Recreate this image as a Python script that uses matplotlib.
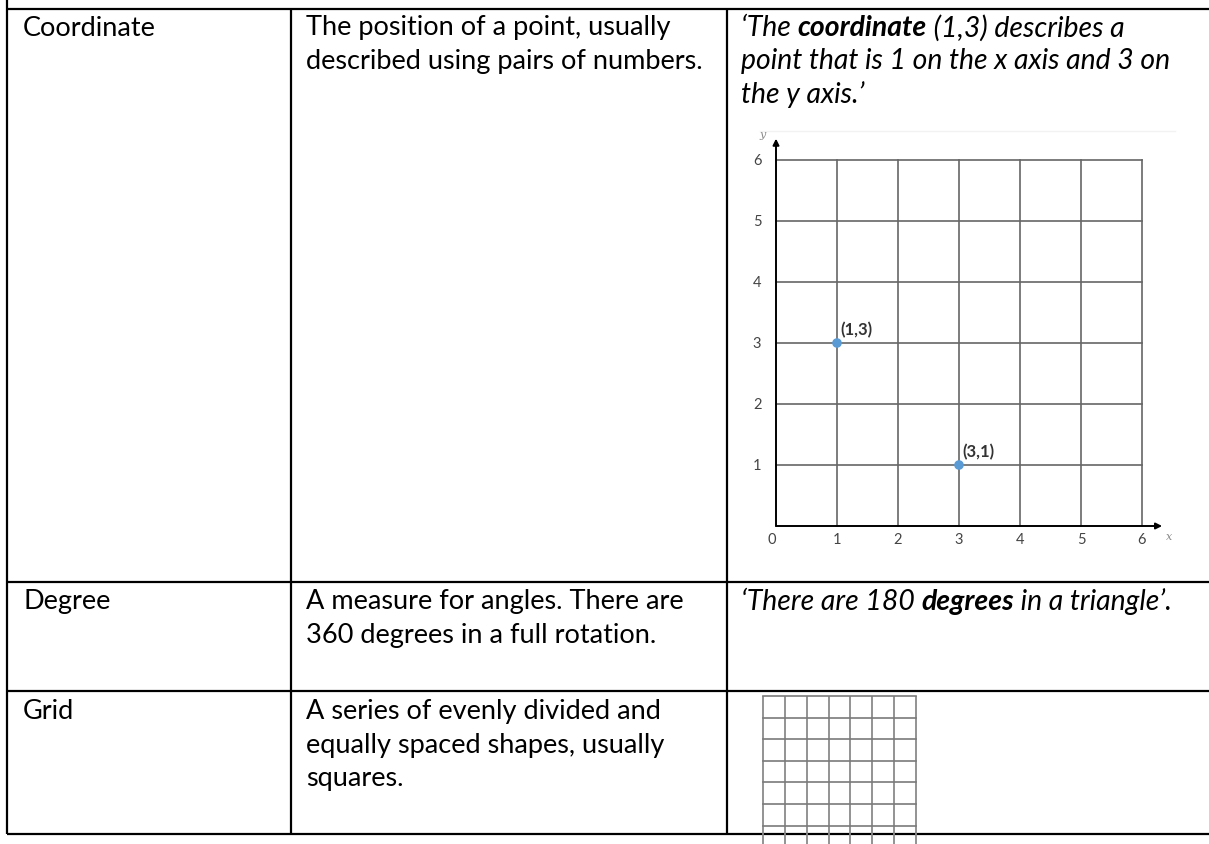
import matplotlib
matplotlib.use("Agg")
import matplotlib.pyplot as plt

plt.rcParams['font.family'] = ['Lato', 'DejaVu Sans']

# table content
terms = ["Coordinate", "Degree", "Grid"]
definitions = [
    ["The position of a point, usually", "described using pairs of numbers."],
    ["A measure for angles. There are", "360 degrees in a full rotation."],
    ["A series of evenly divided and", "equally spaced shapes, usually", "squares."],
]
# example sentences: list of lines, each line a list of (text, bold) pieces
examples = [
    [[("\u2018The ", False), ("coordinate", True), (" (1,3) describes a", False)],
     [("point that is 1 on the x axis and 3 on", False)],
     [("the y axis.\u2019", False)]],
    [[("\u2018There are 180 ", False), ("degrees", True), (" in a triangle\u2019.", False)]],
]

# coordinate chart
ticks = [0, 1, 2, 3, 4, 5, 6]
point_x = [1, 3]
point_y = [3, 1]
point_labels = ["(1,3)", "(3,1)"]

W, H = 1209, 845
fig = plt.figure(figsize=(W / 100, H / 100), dpi=100)
ax = fig.add_axes([0, 0, 1, 1])
ax.set_xlim(0, W)
ax.set_ylim(H, 0)
ax.axis('off')

lw = 1.6
col_x = [7, 291, 726.5]
row_y = [9.5, 583, 692, 835]
ax.plot([col_x[0], col_x[0]], [0, row_y[-1]], color='black', lw=lw, solid_capstyle='butt')
for x in col_x[1:]:
    ax.plot([x, x], [row_y[0], row_y[-1]], color='black', lw=lw, solid_capstyle='butt')
for y in row_y:
    ax.plot([col_x[0], W], [y, y], color='black', lw=lw, solid_capstyle='butt')

fs = 19.5
fs_it = 20.4
line_h = 33.5
first_line = [28, 602, 712]
text_x = [23, 306, 741]

for i, term in enumerate(terms):
    ax.text(text_x[0], first_line[i], term, fontsize=fs, va='center', ha='left')
    for j, line in enumerate(definitions[i]):
        ax.text(text_x[1], first_line[i] + j * line_h, line, fontsize=fs,
                va='center', ha='left')

fig.canvas.draw()
renderer = fig.canvas.get_renderer()
for i, ex in enumerate(examples):
    for j, pieces in enumerate(ex):
        x = text_x[2]
        for txt, bold in pieces:
            t = ax.text(x, first_line[i] + j * line_h, txt, fontsize=fs_it, va='center',
                        ha='left', style='italic', weight='bold' if bold else 'normal')
            bb = t.get_window_extent(renderer)
            x += bb.width

# faint edge of the pasted chart image
ax.plot([760, 1175], [132, 132], color='#f2f2f2', lw=1)

# grid picture in the last row
gx0, gy0, cell_w, cell_h = 763, 697, 153 / 7, 21.6
for k in range(8):
    ax.plot([gx0 + k * cell_w] * 2, [gy0, H], color='#8a8a8a', lw=1.3, solid_capstyle='butt')
for k in range(7):
    ax.plot([gx0, gx0 + 7 * cell_w], [gy0 + k * cell_h] * 2, color='#7a7a7a', lw=1.2)

# coordinate chart inset
u = 61.0
x0px, y0px = 776, 527
xl, xr = -0.5, 6.6
yb, yt = -0.45, 6.5
left = (x0px + xl * u) / W
bottom = 1 - (y0px - yb * u) / H
cax = fig.add_axes([left, bottom, (xr - xl) * u / W, (yt - yb) * u / H])
cax.set_xlim(xl, xr)
cax.set_ylim(yb, yt)
cax.axis('off')

for t in ticks[1:]:
    cax.plot([t, t], [0, 6], color='#666666', lw=1.2)
    cax.plot([0, 6], [t, t], color='#666666', lw=1.2)
cax.annotate('', xy=(6.33, 0), xytext=(0, 0),
             arrowprops=dict(arrowstyle='-|>', color='black', lw=1.4,
                             mutation_scale=9, shrinkA=0, shrinkB=0))
cax.annotate('', xy=(0, 6.35), xytext=(0, 0),
             arrowprops=dict(arrowstyle='-|>', color='black', lw=1.4,
                             mutation_scale=9, shrinkA=0, shrinkB=0))

tick_fs = 10.5
for t in ticks:
    cax.text(t - (0.07 if t == 0 else 0), -0.22, str(t), fontsize=tick_fs,
             color='#444444', ha='center', va='center')
for t in ticks[1:]:
    cax.text(-0.31, t, str(t), fontsize=tick_fs, color='#444444',
             ha='center', va='center')
cax.text(6.45, -0.17, 'x', fontsize=8, style='italic', color='#888888',
         ha='center', va='center', family='DejaVu Serif')
cax.text(-0.22, 6.42, 'y', fontsize=8, style='italic', color='#888888',
         ha='center', va='center', family='DejaVu Serif')

cax.scatter(point_x, point_y, s=48, color='#5b9bd5', zorder=5, edgecolors='none')
for px, py, lab in zip(point_x, point_y, point_labels):
    cax.text(px + 0.05, py + 0.1, lab, fontsize=12, color='#333333',
             ha='left', va='bottom', weight='bold')

fig.savefig('out.png', dpi=100)
